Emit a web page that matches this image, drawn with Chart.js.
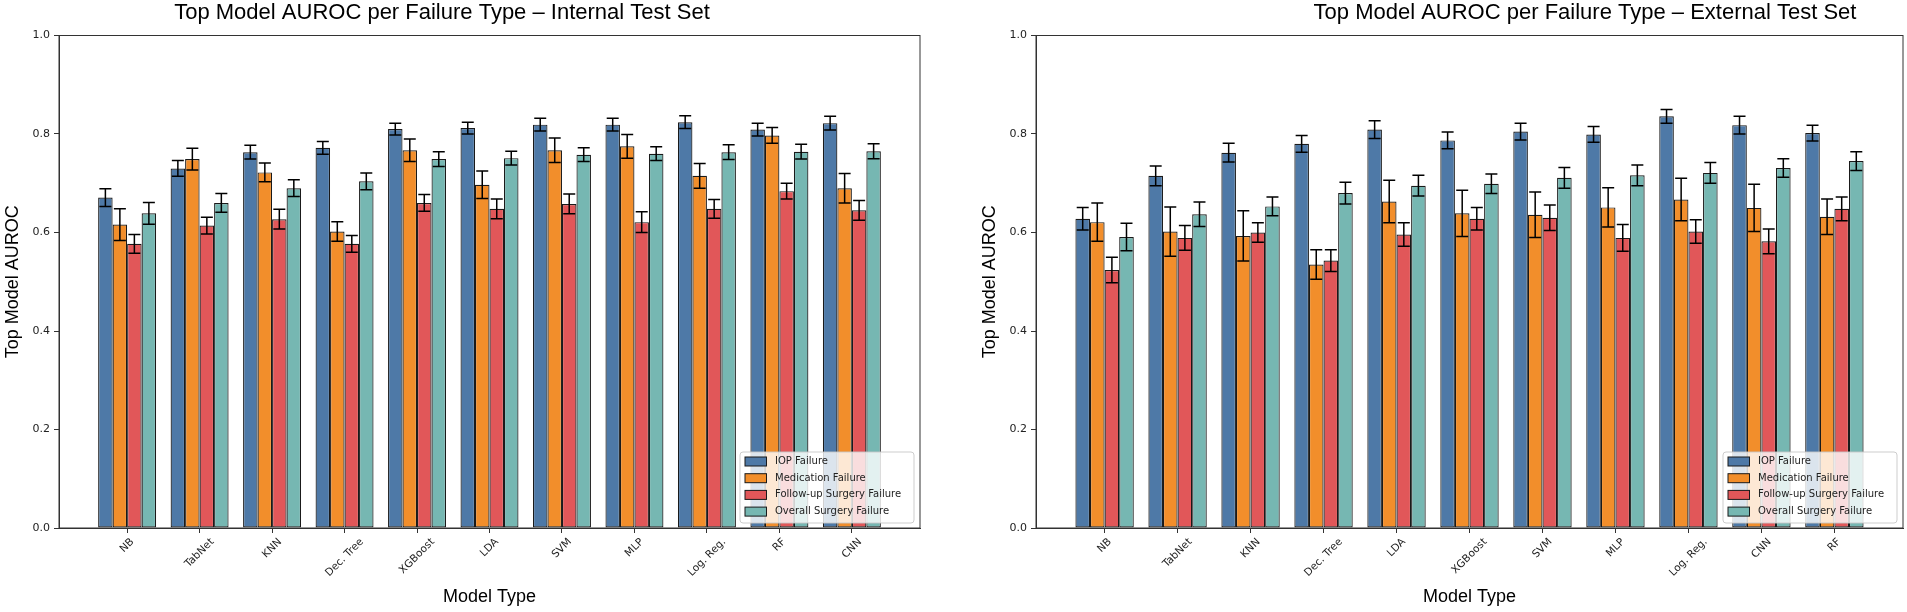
<!DOCTYPE html>
<html lang="en">
<head>
<meta charset="UTF-8">
<title>Top Model AUROC per Failure Type</title>
<script src="https://cdn.jsdelivr.net/npm/chart.js"></script>
<style>
  body { margin: 0; background: #fff; }
  canvas { position: absolute; top: 0; }
  #internalChart { left: 0; }
  #externalChart { left: 953px; }
</style>
</head>
<body>
<canvas id="internalChart" width="953" height="612"></canvas>
<canvas id="externalChart" width="954" height="612"></canvas>
<script>
// ---- Internal test set ----
const internalModels = ['NB', 'TabNet', 'KNN', 'Dec. Tree', 'XGBoost', 'LDA', 'SVM', 'MLP', 'Log. Reg.', 'RF', 'CNN'];
const internalIOP = [0.671, 0.730, 0.763, 0.772, 0.810, 0.812, 0.819, 0.819, 0.824, 0.809, 0.822];
const internalIOPErr = [0.018, 0.016, 0.014, 0.013, 0.012, 0.012, 0.013, 0.013, 0.013, 0.013, 0.014];
const internalMed = [0.616, 0.749, 0.722, 0.602, 0.767, 0.697, 0.767, 0.775, 0.715, 0.797, 0.690];
const internalMedErr = [0.032, 0.022, 0.019, 0.020, 0.023, 0.028, 0.025, 0.024, 0.025, 0.016, 0.030];
const internalFU = [0.577, 0.614, 0.627, 0.577, 0.660, 0.648, 0.658, 0.621, 0.648, 0.684, 0.645];
const internalFUErr = [0.019, 0.017, 0.020, 0.017, 0.017, 0.020, 0.020, 0.021, 0.019, 0.016, 0.020];
const internalOverall = [0.639, 0.660, 0.690, 0.704, 0.749, 0.751, 0.758, 0.760, 0.763, 0.764, 0.765];
const internalOverallErr = [0.022, 0.019, 0.017, 0.017, 0.015, 0.014, 0.014, 0.014, 0.015, 0.015, 0.015];

// ---- External test set ----
const externalModels = ['NB', 'TabNet', 'KNN', 'Dec. Tree', 'LDA', 'XGBoost', 'SVM', 'MLP', 'Log. Reg.', 'CNN', 'RF'];
const externalIOP = [0.628, 0.715, 0.762, 0.780, 0.809, 0.787, 0.805, 0.799, 0.836, 0.818, 0.802];
const externalIOPErr = [0.023, 0.020, 0.019, 0.017, 0.018, 0.017, 0.017, 0.016, 0.014, 0.018, 0.016];
const externalMed = [0.621, 0.602, 0.593, 0.535, 0.663, 0.639, 0.636, 0.651, 0.667, 0.650, 0.632];
const externalMedErr = [0.039, 0.050, 0.051, 0.030, 0.043, 0.047, 0.046, 0.040, 0.043, 0.048, 0.036];
const externalFU = [0.524, 0.589, 0.600, 0.543, 0.596, 0.628, 0.630, 0.589, 0.602, 0.582, 0.648];
const externalFUErr = [0.026, 0.025, 0.020, 0.022, 0.024, 0.023, 0.026, 0.027, 0.024, 0.025, 0.024];
const externalOverall = [0.591, 0.637, 0.653, 0.680, 0.695, 0.699, 0.711, 0.716, 0.721, 0.731, 0.745];
const externalOverallErr = [0.028, 0.025, 0.019, 0.022, 0.021, 0.020, 0.021, 0.021, 0.021, 0.019, 0.019];

const seriesNames = ['IOP Failure', 'Medication Failure', 'Follow-up Surgery Failure', 'Overall Surgery Failure'];
const seriesColors = ['#4E79A7', '#F28E2B', '#E15759', '#76B7B2'];

function makeDatasets(values, errors) {
    return values.map((vals, s) => ({
        label: seriesNames[s],
        data: vals.map((v, i) => ({ x: i, y: v })),
        err: errors[s],
        backgroundColor: seriesColors[s],
        borderColor: '#1a1a1a',
        borderWidth: 1.2,
        borderSkipped: false,
        categoryPercentage: 0.8,
        barPercentage: 1.0
    }));
}

// vertical error bars with caps
const errorBars = {
    id: 'errorBars',
    afterDatasetsDraw(chart) {
        const ctx = chart.ctx, y = chart.scales.y;
        ctx.save();
        ctx.strokeStyle = '#000';
        ctx.lineWidth = 1.5;
        chart.data.datasets.forEach((ds, d) => {
            chart.getDatasetMeta(d).data.forEach((bar, i) => {
                const v = ds.data[i].y, e = ds.err[i];
                const top = y.getPixelForValue(v + e), bot = y.getPixelForValue(v - e);
                ctx.beginPath();
                ctx.moveTo(bar.x, top); ctx.lineTo(bar.x, bot);
                ctx.moveTo(bar.x - 6, top); ctx.lineTo(bar.x + 6, top);
                ctx.moveTo(bar.x - 6, bot); ctx.lineTo(bar.x + 6, bot);
                ctx.stroke();
            });
        });
        ctx.restore();
    }
};

// title, frame, rotated tick labels, legend in lower right
const decor = {
    id: 'decor',
    afterDraw(chart, args, opts) {
        const { ctx, chartArea: a, scales: { x } } = chart;
        ctx.save();
        ctx.strokeStyle = '#333';
        ctx.lineWidth = 1;
        ctx.strokeRect(a.left, a.top, a.right - a.left, a.bottom - a.top);

        ctx.font = '22px "Liberation Sans"';
        ctx.fillStyle = '#000';
        ctx.textAlign = 'center';
        ctx.textBaseline = 'alphabetic';
        ctx.fillText(opts.title, opts.titleX, 19);

        ctx.font = '10.5px "DejaVu Sans"';
        ctx.fillStyle = '#222';
        ctx.textBaseline = 'middle';
        opts.models.forEach((m, i) => {
            const px = x.getPixelForValue(i);
            const ext = (ctx.measureText(m).width + 12) * Math.SQRT1_2;
            ctx.save();
            ctx.translate(px, a.bottom + 8 + ext / 2);
            ctx.rotate(-Math.PI / 4);
            ctx.fillText(m, 0, 0);
            ctx.restore();
        });

        ctx.font = '10px "DejaVu Sans"';
        const rowH = 16.7, boxW = 174, boxH = 71;
        const bx = a.right - 6 - boxW, by = a.bottom - 5 - boxH;
        ctx.fillStyle = 'rgba(255,255,255,0.8)';
        ctx.strokeStyle = 'rgba(200,200,200,0.9)';
        ctx.beginPath();
        ctx.roundRect(bx, by, boxW, boxH, 3);
        ctx.fill();
        ctx.stroke();
        ctx.textAlign = 'left';
        chart.data.datasets.forEach((ds, s) => {
            const cy = by + 9.5 + s * rowH;
            ctx.fillStyle = ds.backgroundColor;
            ctx.fillRect(bx + 5, cy - 4.5, 21.5, 9);
            ctx.strokeStyle = '#1a1a1a';
            ctx.strokeRect(bx + 5, cy - 4.5, 21.5, 9);
            ctx.fillStyle = '#222';
            ctx.fillText(ds.label, bx + 35, cy);
        });
        ctx.restore();
    }
};

function buildChart(id, title, titleX, models, values, errors, padLeft, padRight) {
    return new Chart(document.getElementById(id), {
        type: 'bar',
        data: { datasets: makeDatasets(values, errors) },
        plugins: [errorBars, decor],
        options: {
            responsive: false,
            animation: false,
            layout: { padding: { left: padLeft, right: padRight, top: 35.5, bottom: 0 } },
            plugins: {
                legend: { display: false },
                tooltip: { enabled: false },
                decor: { models: models, title: title, titleX: titleX }
            },
            scales: {
                x: {
                    type: 'linear',
                    offset: false,
                    min: -0.94,
                    max: models.length - 1 + 0.94,
                    afterBuildTicks: s => { s.ticks = models.map((m, i) => ({ value: i })); },
                    afterFit: s => { s.height = 84; },
                    ticks: { display: false },
                    grid: { offset: false, drawOnChartArea: false, drawTicks: true, tickLength: 5, color: '#333' },
                    border: { color: '#333', width: 1 },
                    title: {
                        display: true, text: 'Model Type', color: '#000',
                        font: { family: 'Liberation Sans', size: 18 },
                        padding: { top: 0, bottom: 4 }
                    }
                },
                y: {
                    min: 0,
                    max: 1,
                    afterFit: s => { s.width = 59; },
                    ticks: {
                        stepSize: 0.2, color: '#222', padding: 4,
                        font: { family: 'DejaVu Sans', size: 11 },
                        callback: v => v.toFixed(1)
                    },
                    grid: { drawOnChartArea: false, tickLength: 5, color: '#333' },
                    border: { color: '#333' },
                    title: {
                        display: true, text: 'Top Model AUROC', color: '#000',
                        font: { family: 'Liberation Sans', size: 18 },
                        padding: { top: 2, bottom: 0 }
                    }
                }
            }
        }
    });
}

buildChart('internalChart', 'Top Model AUROC per Failure Type \u2013 Internal Test Set', 442, internalModels,
    [internalIOP, internalMed, internalFU, internalOverall],
    [internalIOPErr, internalMedErr, internalFUErr, internalOverallErr], 0, 33);

buildChart('externalChart', 'Top Model AUROC per Failure Type \u2013 External Test Set', 632, externalModels,
    [externalIOP, externalMed, externalFU, externalOverall],
    [externalIOPErr, externalMedErr, externalFUErr, externalOverallErr], 24, 4);
</script>
</body>
</html>
